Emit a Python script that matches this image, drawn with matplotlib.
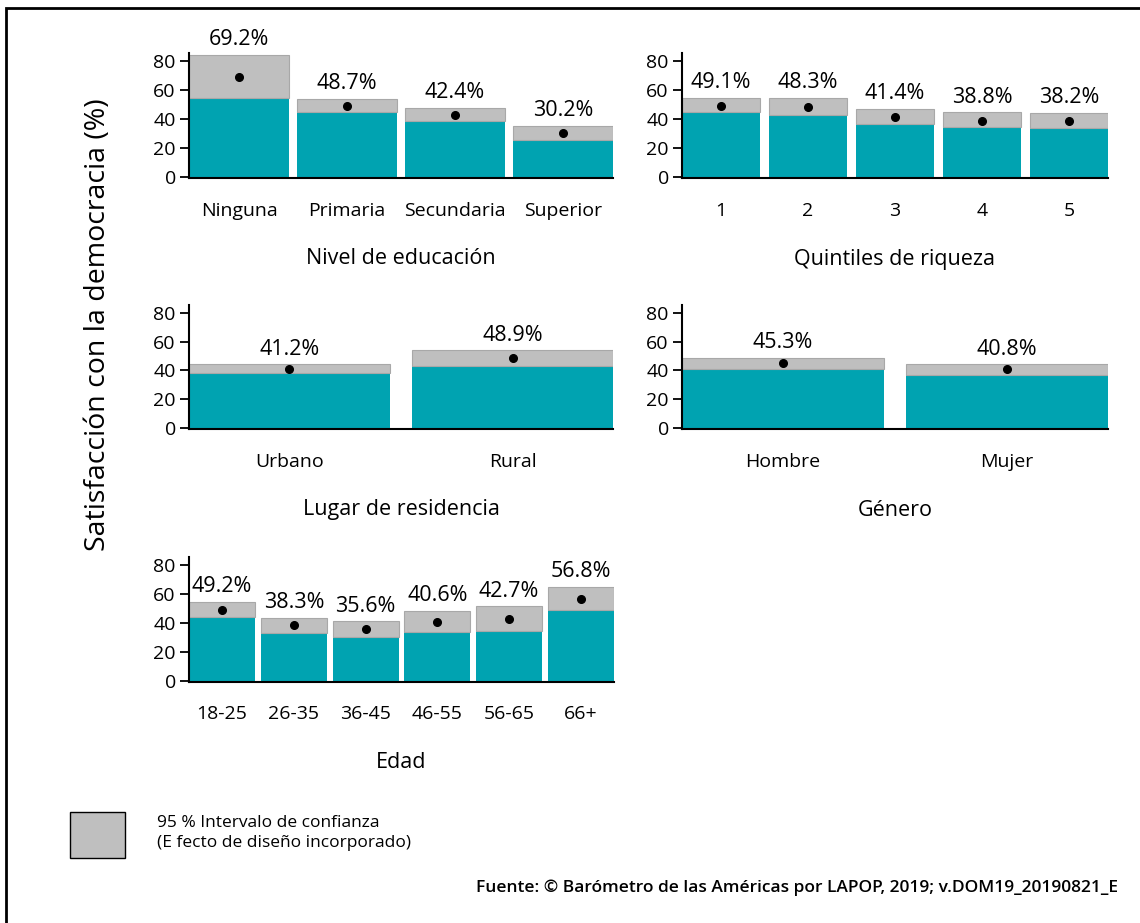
import matplotlib
matplotlib.use("Agg")
import matplotlib.pyplot as plt
from matplotlib.patches import Rectangle
from matplotlib.transforms import blended_transform_factory

plt.rcParams['font.family'] = ['Open Sans', 'DejaVu Sans']

# ---- data ----
edu_cats = ["Ninguna", "Primaria", "Secundaria", "Superior"]
edu_mean = [69.2, 48.7, 42.4, 30.2]
edu_low = [54.4, 44.6, 38.4, 25.7]
edu_high = [84.4, 53.6, 47.3, 35.2]

wealth_cats = ["1", "2", "3", "4", "5"]
wealth_mean = [49.1, 48.3, 41.4, 38.8, 38.2]
wealth_low = [44.8, 42.9, 36.6, 34.3, 33.4]
wealth_high = [54.6, 54.6, 46.9, 44.4, 44.0]

res_cats = ["Urbano", "Rural"]
res_mean = [41.2, 48.9]
res_low = [38.2, 43.2]
res_high = [44.1, 53.8]

gen_cats = ["Hombre", "Mujer"]
gen_mean = [45.3, 40.8]
gen_low = [41.0, 36.8]
gen_high = [48.8, 44.1]

age_cats = ["18-25", "26-35", "36-45", "46-55", "56-65", "66+"]
age_mean = [49.2, 38.3, 35.6, 40.6, 42.7, 56.8]
age_low = [44.0, 33.0, 30.0, 33.7, 34.2, 49.0]
age_high = [54.6, 43.6, 41.0, 48.4, 51.3, 65.1]

titles = ["Nivel de educación", "Quintiles de riqueza", "Lugar de residencia", "Género", "Edad"]
yticks = [0, 20, 40, 60, 80]

TEAL = "#00A3B1"
GRAY = "#BFBFBF"
W, H = 1140, 923

fig = plt.figure(figsize=(W / 100, H / 100), dpi=100)


def px_rect(x0, x1, y_top, y_bot):
    return [x0 / W, 1 - y_bot / H, (x1 - x0) / W, (y_bot - y_top) / H]


panels = [
    (edu_cats, edu_mean, edu_low, edu_high, titles[0], px_rect(189, 613, 53, 178), 0.93, 211, 259),
    (wealth_cats, wealth_mean, wealth_low, wealth_high, titles[1], px_rect(682, 1108, 53, 178), 0.89, 211, 259),
    (res_cats, res_mean, res_low, res_high, titles[2], px_rect(189, 613, 305, 429), 0.90, 462, 510),
    (gen_cats, gen_mean, gen_low, gen_high, titles[3], px_rect(682, 1108, 305, 429), 0.90, 462, 510),
    (age_cats, age_mean, age_low, age_high, titles[4], px_rect(189, 614, 557, 682), 0.92, 714, 762),
]

for cats, mean, low, high, title, rect, bw, ycat, ytitle in panels:
    ax = fig.add_axes(rect)
    n = len(cats)
    xs = list(range(n))
    ax.bar(xs, low, width=bw, color=TEAL, edgecolor="none", zorder=2)
    ax.bar(xs, [h - l for h, l in zip(high, low)], bottom=low, width=bw,
           color=GRAY, edgecolor="#A8A8A8", linewidth=0.8, zorder=2)
    ax.plot(xs, mean, "o", color="black", markersize=5.5, zorder=3)
    for x, m, h in zip(xs, mean, high):
        ax.annotate(f"{m:.1f}%", (x, h), xytext=(0, 3.5), textcoords="offset points",
                    ha="center", va="bottom", fontsize=15.5, color="black")
    ax.set_xlim(-bw / 2, n - 1 + bw / 2)
    ax.set_ylim(-0.9, 85.5)
    ax.set_yticks(yticks)
    ax.tick_params(axis="y", length=6.5, width=1.3, labelsize=14, pad=3)
    ax.set_xticks([])
    for s in ["top", "right"]:
        ax.spines[s].set_visible(False)
    for s in ["left", "bottom"]:
        ax.spines[s].set_linewidth(1.5)
        ax.spines[s].set_color("black")
    tr = blended_transform_factory(ax.transData, fig.transFigure)
    for x, c in zip(xs, cats):
        ax.text(x, 1 - ycat / H, c, transform=tr, ha="center", va="center", fontsize=14)
    ax.text((n - 1) / 2, 1 - ytitle / H, title, transform=tr, ha="center", va="center", fontsize=15.5)

fig.text(98 / W, 1 - 325 / H, "Satisfacción con la democracia (%)", rotation=90,
         ha="center", va="center", fontsize=20.5)

# legend
fig.patches.append(Rectangle((70 / W, 1 - 858 / H), 55 / W, 46 / H, transform=fig.transFigure,
                             facecolor=GRAY, edgecolor="black", linewidth=1.0))
fig.text(157 / W, 1 - 823 / H, "95 % Intervalo de confianza", ha="left", va="center", fontsize=12.5)
fig.text(157 / W, 1 - 843 / H, "(E fecto de diseño incorporado)", ha="left", va="center", fontsize=12.5)

fig.text(1118 / W, 1 - 888 / H, "Fuente: © Barómetro de las Américas por LAPOP, 2019; v.DOM19_20190821_E",
         ha="right", va="center", fontsize=12.5, weight="semibold")

# outer frame (left and top edges visible)
fig.patches.append(Rectangle((6 / W, -0.05), 1.5, (1 - 8 / H) + 0.05, transform=fig.transFigure,
                             facecolor="none", edgecolor="black", linewidth=2.0))

fig.savefig("out.png", dpi=100)
